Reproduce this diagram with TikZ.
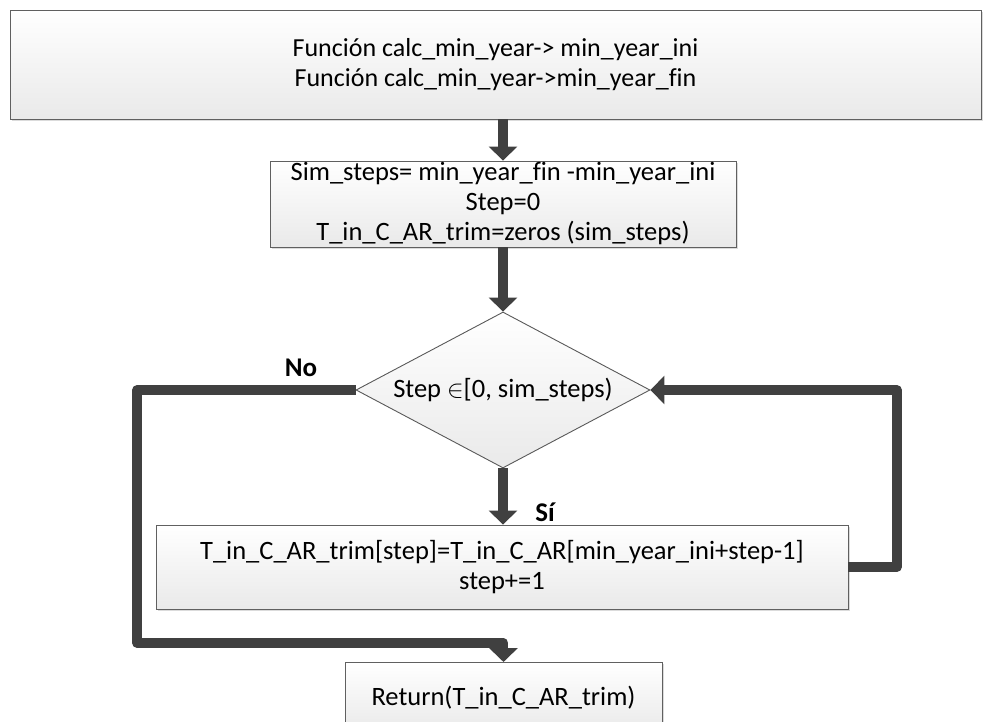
\documentclass[tikz,border=0pt]{standalone}
\usepackage{fontspec}
\setmainfont{Carlito}[Ligatures=CommonOff]
\usetikzlibrary{arrows.meta,shapes.geometric,shadows}
\begin{document}
\begin{tikzpicture}[x=1pt,y=-1pt,
  box/.style={draw=gray!75!black, line width=0.9pt, top color=white, bottom color=gray!17,
    drop shadow={shadow xshift=2pt,shadow yshift=-2pt,fill=gray!40,opacity=0.7},
    inner sep=0pt, align=center, font=\fontsize{26.5}{30}\selectfont},
  decision/.style={diamond, draw=gray!70!black, line width=0.9pt, top color=white, bottom color=gray!17,
    inner sep=0pt},
  flow/.style={draw=black!75, line width=9.5pt, line join=round,
    -{Triangle[width=28pt,length=14pt]}},
  lbl/.style={font=\fontsize{27}{30}\selectfont\bfseries}]
\useasboundingbox (0,0) rectangle (983,722);

% process boxes
\node[box, minimum width=971pt, minimum height=109pt, font=\fontsize{26}{30}\selectfont] (top) at (495.5,64.5)
  {Función calc\_min\_year-> min\_year\_ini\\Función calc\_min\_year->min\_year\_fin};
\node[box, minimum width=466pt, minimum height=86pt] (init) at (503,204)
  {Sim\_steps= min\_year\_fin -min\_year\_ini\\Step=0\\T\_in\_C\_AR\_trim=zeros (sim\_steps)};

% decision: fixed-size diamond with its text set on top
\node[decision, minimum width=294pt, minimum height=156pt] (cond) at (503,390) {};
\node[font=\fontsize{26.5}{30}\selectfont] (condtext) at (cond.center)
  {Step $\in$[0, sim\_steps)};

\node[box, minimum width=692pt, minimum height=84pt] (body) at (502,567)
  {T\_in\_C\_AR\_trim[step]=T\_in\_C\_AR[min\_year\_ini+step-1]\\step+=1};
\node[box, minimum width=317pt, minimum height=70pt, anchor=north] (ret) at (503.5,662)
  {Return(T\_in\_C\_AR\_trim)};

% labels
\node[lbl] (no) at (301,368) {No};
\node[lbl] (si) at (545,512) {Sí};

% route points
\coordinate (noleft) at (137,390);
\coordinate (nobottom) at (137,643);
\coordinate (loopright) at (897,390);

% connectors
\draw[flow] (init.north |- top.south) -- (init.north);
\draw[flow] (init.south) -- (cond.north);
\draw[flow] (cond.south) -- (cond.south |- body.north);
\draw[flow] (cond.west) -- (noleft) -- (nobottom) -| (ret.north);
\draw[flow] (body.east) -| (loopright) -- (cond.east);
\end{tikzpicture}
\end{document}
